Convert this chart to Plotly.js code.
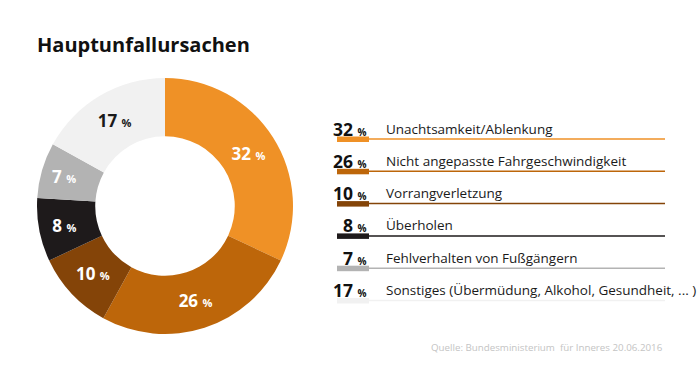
<!DOCTYPE html>
<html><head><meta charset="utf-8">
<script src="https://cdn.plot.ly/plotly-3.0.1.min.js"></script>
<style>html,body{margin:0;padding:0;background:#fff;}#chart{width:700px;height:367px;}</style>
</head><body><div id="chart"></div>
<script>
const categories = ["Unachtsamkeit/Ablenkung","Nicht angepasste Fahrgeschwindigkeit","Vorrangverletzung","Überholen","Fehlverhalten von Fußgängern","Sonstiges (Übermüdung, Alkohol, Gesundheit, ... )"];
const values = [32, 26, 10, 8, 7, 17];
const colors = ["#EF9126","#BD660A","#844408","#1E1A1B","#B3B3B3","#F1F1F1"];
const textColors = ["#ffffff","#ffffff","#ffffff","#ffffff","#ffffff","#1a1a1a"];

const W = 700, H = 367;
const px = x => x / W, py = y => 1 - y / H;
const FONT = "Open Sans, sans-serif";

const trace = {
  type: "pie",
  values: values,
  labels: categories,
  sort: false,
  direction: "clockwise",
  rotation: 0,
  hole: 0.545,
  marker: {colors: colors, line: {width: 0}},
  texttemplate: "<b>%{value}</b> <span style='font-size:11px'><b>%</b></span>",
  textposition: "inside",
  insidetextorientation: "horizontal",
  textfont: {family: FONT, size: 17, color: textColors},
  domain: {x: [px(37), px(293)], y: [py(334), py(78)]},
  hoverinfo: "label+value",
  showlegend: false
};

const annotations = [
  {text: "<b>Hauptunfallursachen</b>", x: px(35), y: py(44), xref: "paper", yref: "paper", xanchor: "left", yanchor: "middle", showarrow: false, font: {family: FONT, size: 20, color: "#111111"}},
  {text: "Quelle: Bundesministerium  für Inneres 20.06.2016", x: px(665), y: py(347), xref: "paper", yref: "paper", xanchor: "right", yanchor: "middle", showarrow: false, font: {family: FONT, size: 9.75, color: "#C4C4C4"}}
];
const shapes = [];
const rowStep = 32.3, lineY0 = 139;
categories.forEach((c, i) => {
  const ly = lineY0 + i * rowStep;
  const ty = ly - 10.5;
  annotations.push({text: "<b>" + values[i] + "</b> <span style='font-size:10px'><b>%</b></span>", x: px(369), y: py(ty), xref: "paper", yref: "paper", xanchor: "right", yanchor: "middle", showarrow: false, font: {family: FONT, size: 17.5, color: "#111111"}});
  annotations.push({text: c, x: px(384), y: py(ty), xref: "paper", yref: "paper", xanchor: "left", yanchor: "middle", showarrow: false, font: {family: FONT, size: 13.5, color: "#1a1a1a"}});
  shapes.push({type: "line", xref: "paper", yref: "paper", x0: px(337), x1: px(665), y0: py(ly), y1: py(ly), line: {color: colors[i], width: 1.5}});
  shapes.push({type: "rect", xref: "paper", yref: "paper", x0: px(337), x1: px(369), y0: py(ly - 2.5), y1: py(ly + 3), fillcolor: colors[i], line: {width: 0}});
});

const layout = {
  width: W, height: H,
  margin: {l: 0, r: 0, t: 0, b: 0},
  paper_bgcolor: "#ffffff",
  plot_bgcolor: "#ffffff",
  font: {family: FONT},
  annotations: annotations,
  shapes: shapes
};
Plotly.newPlot("chart", [trace], layout, {displayModeBar: false, staticPlot: true});
</script>
</body></html>
